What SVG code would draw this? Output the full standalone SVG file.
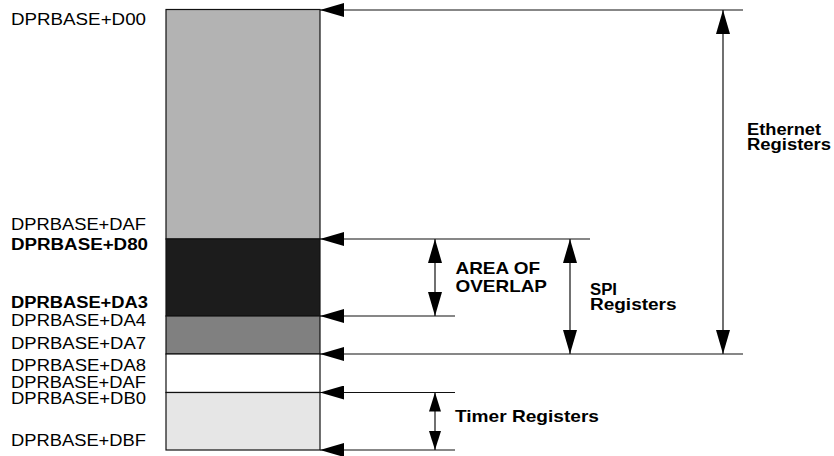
<svg xmlns="http://www.w3.org/2000/svg" width="834" height="456" viewBox="0 0 834 456">
<style>
.lbl{font-family:"Liberation Sans",Arial,sans-serif;font-size:16px;fill:#000}
.b{font-weight:bold}
.ln{stroke:#111;stroke-width:1.2;fill:none}
.box{stroke:#111;stroke-width:1.2}
</style>
<defs>
<marker id="ah" viewBox="0 0 24 14" refX="24" refY="7" markerWidth="24" markerHeight="14" markerUnits="userSpaceOnUse" orient="auto-start-reverse">
<path d="M0,0 L24,7 L0,14 z" fill="#000"/>
</marker>
<marker id="ahs" viewBox="0 0 19 12" refX="19" refY="6" markerWidth="19" markerHeight="12" markerUnits="userSpaceOnUse" orient="auto-start-reverse">
<path d="M0,0 L19,6 L0,12 z" fill="#000"/>
</marker>
</defs>
<rect width="834" height="456" fill="#fff"/>
<g id="memory-map">
<rect id="ethernet-block" class="box" x="166" y="9.5" width="154" height="229.5" fill="#b3b3b3"/>
<rect id="overlap-block" class="box" x="166" y="239" width="154" height="77" fill="#1c1c1c"/>
<rect id="spi-block" class="box" x="166" y="316" width="154" height="38" fill="#808080"/>
<rect id="reserved-block" class="box" x="166" y="354" width="154" height="38.5" fill="#ffffff"/>
<rect id="timer-block" class="box" x="166" y="392.5" width="154" height="57.5" fill="#e6e6e6"/>
</g>
<g id="addresses">
<text class="lbl" x="11" y="25" textLength="135" lengthAdjust="spacingAndGlyphs">DPRBASE+D00</text>
<text class="lbl" x="11" y="230" textLength="135" lengthAdjust="spacingAndGlyphs">DPRBASE+DAF</text>
<text class="lbl b" x="11" y="250" textLength="137" lengthAdjust="spacingAndGlyphs">DPRBASE+D80</text>
<text class="lbl b" x="11" y="308" textLength="137" lengthAdjust="spacingAndGlyphs">DPRBASE+DA3</text>
<text class="lbl" x="11" y="325.5" textLength="135" lengthAdjust="spacingAndGlyphs">DPRBASE+DA4</text>
<text class="lbl" x="11" y="349" textLength="135" lengthAdjust="spacingAndGlyphs">DPRBASE+DA7</text>
<text class="lbl" x="11" y="371" textLength="135" lengthAdjust="spacingAndGlyphs">DPRBASE+DA8</text>
<text class="lbl" x="11" y="387.5" textLength="135" lengthAdjust="spacingAndGlyphs">DPRBASE+DAF</text>
<text class="lbl" x="11" y="404" textLength="135" lengthAdjust="spacingAndGlyphs">DPRBASE+DB0</text>
<text class="lbl" x="11" y="446" textLength="135" lengthAdjust="spacingAndGlyphs">DPRBASE+DBF</text>
</g>
<g id="connectors">
<path class="ln" d="M320,10 H743" marker-start="url(#ah)"/>
<path class="ln" d="M320,239 H590" marker-start="url(#ah)"/>
<path class="ln" d="M320,316 H455" marker-start="url(#ah)"/>
<path class="ln" d="M320,354 H743" marker-start="url(#ah)"/>
<path class="ln" d="M320,392.5 H455" marker-start="url(#ah)"/>
<path class="ln" d="M320,450 H455" marker-start="url(#ah)"/>
<path class="ln" d="M723,10 V354" marker-start="url(#ah)" marker-end="url(#ah)"/>
<path class="ln" d="M435,239 V316" marker-start="url(#ah)" marker-end="url(#ah)"/>
<path class="ln" d="M570,239 V354" marker-start="url(#ah)" marker-end="url(#ah)"/>
<path class="ln" d="M435,392.5 V450" marker-start="url(#ahs)" marker-end="url(#ahs)"/>
</g>
<g id="ethernet-label">
<text class="lbl b" x="747" y="135" textLength="74" lengthAdjust="spacingAndGlyphs">Ethernet</text>
<text class="lbl b" x="747" y="149.5" textLength="84" lengthAdjust="spacingAndGlyphs">Registers</text>
</g>
<g id="overlap-label">
<text class="lbl b" x="455.5" y="274" style="font-size:17px" textLength="84.5" lengthAdjust="spacingAndGlyphs">AREA OF</text>
<text class="lbl b" x="455.5" y="291.5" style="font-size:17px" textLength="91.5" lengthAdjust="spacingAndGlyphs">OVERLAP</text>
</g>
<g id="spi-label">
<text class="lbl b" x="590" y="295" textLength="27" lengthAdjust="spacingAndGlyphs">SPI</text>
<text class="lbl b" x="590" y="309.5" textLength="86.5" lengthAdjust="spacingAndGlyphs">Registers</text>
</g>
<g id="timer-label">
<text class="lbl b" x="455" y="421.5" style="font-size:17px" textLength="144" lengthAdjust="spacingAndGlyphs">Timer Registers</text>
</g>
</svg>
